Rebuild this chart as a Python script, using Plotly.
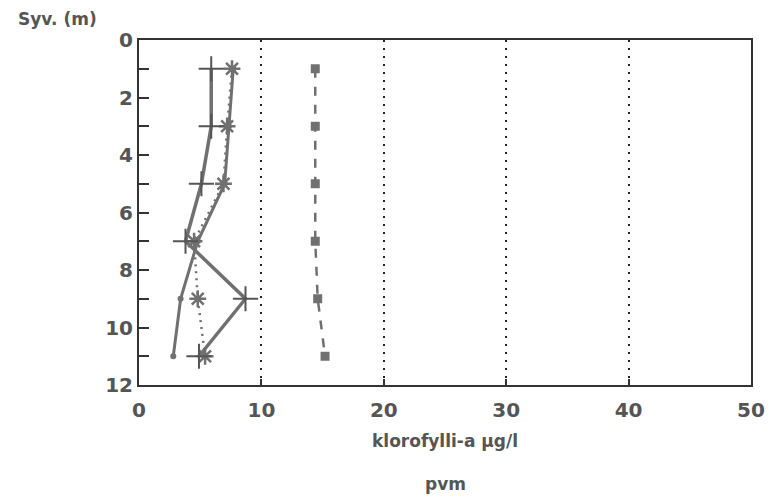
import plotly.graph_objects as go

depth = [1, 3, 5, 7, 9, 11]
plus_vals = [5.9, 5.9, 5.1, 3.8, 8.7, 4.9]
circle_vals = [7.7, 7.35, 7.0, 4.8, 3.4, 2.8]
star_vals = [7.6, 7.2, 6.9, 4.5, 4.8, 5.4]
square_vals = [14.4, 14.4, 14.4, 14.4, 14.6, 15.2]

x_ticks = [0, 10, 20, 30, 40, 50]
y_ticks = [0, 2, 4, 6, 8, 10, 12]
y_minor = [1, 3, 5, 7, 9, 11]

GRAY = "#707070"
TXT = "#555555"
FONT = "DejaVu Sans"

W, H = 777, 499
ML, MR, MT, MB = 139, 14, 40, 114
PW = W - ML - MR
PH = H - MT - MB

fig = go.Figure()
fig.add_trace(go.Scatter(x=star_vals, y=depth, mode="lines+markers",
                         line=dict(color=GRAY, width=2.5, dash="2px,5px"),
                         marker=dict(symbol="asterisk-open", size=14, line=dict(color=GRAY, width=2.5))))
fig.add_trace(go.Scatter(x=circle_vals, y=depth, mode="lines+markers",
                         line=dict(color=GRAY, width=3),
                         marker=dict(symbol="circle", size=6, color=GRAY)))
fig.add_trace(go.Scatter(x=plus_vals, y=depth, mode="lines+markers",
                         line=dict(color=GRAY, width=3.5),
                         marker=dict(symbol="cross-thin", size=18, line=dict(color="#555", width=2))))
fig.add_trace(go.Scatter(x=square_vals, y=depth, mode="lines+markers",
                         line=dict(color=GRAY, width=2.5, dash="dash"),
                         marker=dict(symbol="square", size=9, color=GRAY)))

fig.update_layout(
    width=W, height=H,
    margin=dict(l=ML, r=MR, t=MT, b=MB),
    paper_bgcolor="white", plot_bgcolor="white",
    showlegend=False,
    font=dict(family=FONT, color=TXT),
    xaxis=dict(range=[0, 50], tickvals=x_ticks, ticks="inside", ticklen=6, tickwidth=1.5,
               tickcolor="#333", showline=True, mirror=True, linecolor="#333", linewidth=2,
               showgrid=True, gridcolor="#222", griddash="2px,6px", gridwidth=2,
               zeroline=False, ticklabelstandoff=6,
               tickfont=dict(size=20, family=FONT, color=TXT, weight="bold"),
               title=dict(text="klorofylli-a µg/l", font=dict(size=17, family=FONT, color=TXT, weight="bold"),
                          standoff=14)),
    yaxis=dict(range=[12, 0], tickvals=y_ticks, ticks="inside", ticklen=10, tickwidth=2,
               tickcolor="#333", showline=True, mirror=True, linecolor="#333", linewidth=2,
               showgrid=False, zeroline=False,
               minor=dict(tickvals=y_minor, ticks="inside", ticklen=10, tickwidth=2, tickcolor="#333"),
               tickfont=dict(size=20, family=FONT, color=TXT, weight="bold")),
    annotations=[
        dict(text="Syv. (m)", x=(14 - ML) / PW, y=1 + (MT - 19) / PH, xref="paper", yref="paper",
             showarrow=False, xanchor="left", yanchor="middle",
             font=dict(size=17, family=FONT, color=TXT, weight="bold")),
        dict(text="pvm", x=(451 - ML) / PW, y=-(484 - (H - MB)) / PH, xref="paper", yref="paper",
             showarrow=False, xanchor="center", yanchor="middle",
             font=dict(size=17, family=FONT, color=TXT, weight="bold")),
    ],
)

fig.write_html("out.html")
